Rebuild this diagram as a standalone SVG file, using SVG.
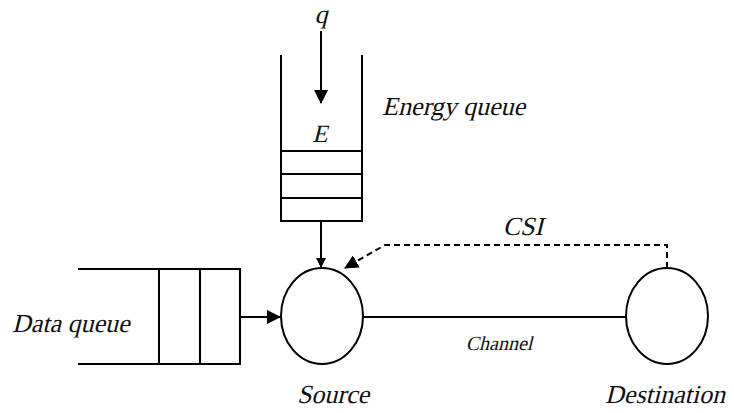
<svg xmlns="http://www.w3.org/2000/svg" width="734" height="413" viewBox="0 0 734 413">
<defs>
<style>
.ln{stroke:#000;stroke-width:2;fill:none}
</style>
<marker id="ah" markerWidth="10" markerHeight="10" refX="9" refY="5" orient="auto" markerUnits="userSpaceOnUse" viewBox="0 0 10 10">
<path d="M0,0 L10,5 L0,10 Z" fill="#000"/>
</marker>
<marker id="ah2" markerWidth="14" markerHeight="14" refX="13" refY="7" orient="auto" markerUnits="userSpaceOnUse" viewBox="0 0 14 14">
<path d="M0,0 L14,7 L0,14 Z" fill="#000"/>
</marker>
</defs>
<rect width="734" height="413" fill="#fff"/>
<g id="energy-queue">
<path class="ln" d="M281,55 V221 H362 V55 M281,151 H362 M281,174 H362 M281,198 H362"/>
<text font-family="Liberation Serif" fill="#111" transform="translate(320,142) skewX(-14)" font-size="25" text-anchor="middle">E</text>
<text font-family="Liberation Serif" fill="#111" transform="translate(382,115) skewX(-14)" font-size="26">Energy queue</text>
</g>
<g id="q-input">
<text font-family="Liberation Serif" fill="#111" transform="translate(321,23) skewX(-14)" font-size="26" text-anchor="middle">q</text>
</g>
<g id="data-queue">
<path class="ln" d="M78,269 H240 V364 H78 M159,269 V364 M200,269 V364"/>
<text font-family="Liberation Serif" fill="#111" transform="translate(12,332) skewX(-14)" font-size="26">Data queue</text>
</g>
<g id="source">
<ellipse class="ln" cx="322" cy="316" rx="41" ry="48"/>
<text font-family="Liberation Serif" fill="#111" transform="translate(333,403) skewX(-14)" font-size="26" text-anchor="middle">Source</text>
</g>
<g id="destination">
<ellipse class="ln" cx="667" cy="316" rx="41" ry="48"/>
<text font-family="Liberation Serif" fill="#111" transform="translate(665,403) skewX(-14)" font-size="26" text-anchor="middle">Destination</text>
</g>
<g id="connectors">
<line class="ln" x1="321" y1="31" x2="321" y2="103" marker-end="url(#ah2)"/>
<line class="ln" x1="321" y1="221" x2="321" y2="267" marker-end="url(#ah)"/>
<line class="ln" x1="240" y1="317" x2="280" y2="317" marker-end="url(#ah2)"/>
<line class="ln" x1="363" y1="317" x2="627" y2="317"/>
<path class="ln" d="M667,268 V245 H385 L345,268" stroke-dasharray="6,4" marker-end="url(#ah2)"/>
<text font-family="Liberation Serif" fill="#111" transform="translate(523,235) skewX(-14)" font-size="26" text-anchor="middle">CSI</text>
<text font-family="Liberation Serif" fill="#111" transform="translate(499,350) skewX(-14)" font-size="20" text-anchor="middle">Channel</text>
</g>
</svg>
